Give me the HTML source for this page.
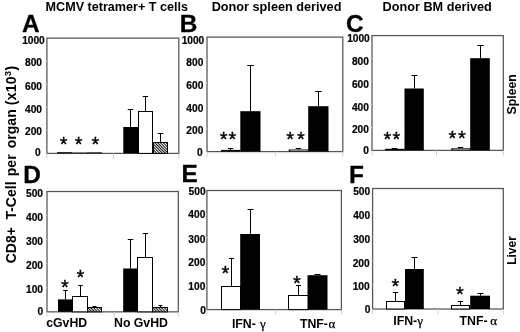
<!DOCTYPE html>
<html><head><meta charset="utf-8"><title>figure</title>
<style>
html,body{margin:0;padding:0;background:#fff;}
svg{display:block;will-change:transform;}
text{font-family:"Liberation Sans",sans-serif;font-weight:bold;fill:#000;}
</style></head><body>
<svg width="520" height="332" viewBox="0 0 520 332">
<defs>
<pattern id="hatch" width="2" height="2" patternUnits="userSpaceOnUse" patternTransform="rotate(-45)">
<rect width="2" height="2" fill="#fff"/><rect width="0.95" height="2" fill="#000"/>
</pattern>
</defs>
<rect width="520" height="332" fill="#fff"/>
<text x="45.6" y="10.7" font-size="12.6" text-anchor="start" >MCMV tetramer+ T cells</text>
<text x="211.7" y="10.5" font-size="12.7" text-anchor="start" >Donor spleen derived</text>
<text x="382.5" y="10.7" font-size="12.7" text-anchor="start" >Donor BM derived</text>
<text x="22.0" y="32" font-size="24.4" text-anchor="start" stroke="#000" stroke-width="0.3">A</text>
<text x="179.8" y="31.6" font-size="24.4" text-anchor="start" stroke="#000" stroke-width="0.3">B</text>
<text x="345.9" y="31.6" font-size="24.4" text-anchor="start" stroke="#000" stroke-width="0.3">C</text>
<text x="23.3" y="182.8" font-size="24.4" text-anchor="start" stroke="#000" stroke-width="0.3">D</text>
<text x="181.5" y="182.2" font-size="24.4" text-anchor="start" stroke="#000" stroke-width="0.3">E</text>
<text x="348.9" y="182.8" font-size="24.4" text-anchor="start" stroke="#000" stroke-width="0.3">F</text>
<text transform="translate(16.0,263.3) rotate(-90)" font-size="14">CD8+</text>
<text transform="translate(16.0,219.6) rotate(-90)" font-size="14">T-Cell</text>
<text transform="translate(16.0,176.2) rotate(-90)" font-size="14">per</text>
<text transform="translate(16.0,148.2) rotate(-90)" font-size="14">organ</text>
<text transform="translate(16.0,105.3) rotate(-90)" font-size="14" letter-spacing="0.27">(x10<tspan font-size="9.6" dy="-5">3</tspan><tspan dy="5">)</tspan></text>
<text transform="translate(515.7,114.4) rotate(-90)" font-size="12.3" textLength="40.2" lengthAdjust="spacingAndGlyphs">Spleen</text>
<text transform="translate(515.8,264.8) rotate(-90)" font-size="12.3" textLength="28.6" lengthAdjust="spacingAndGlyphs">Liver</text>
<rect x="46.9" y="38.1" width="131.9" height="115.30000000000001" fill="none" stroke="#555" stroke-width="1.25"/>
<line x1="44.9" y1="130.34" x2="46.9" y2="130.34" stroke="#d8d8d8" stroke-width="1"/>
<line x1="44.9" y1="107.28" x2="46.9" y2="107.28" stroke="#d8d8d8" stroke-width="1"/>
<line x1="44.9" y1="84.22" x2="46.9" y2="84.22" stroke="#d8d8d8" stroke-width="1"/>
<line x1="44.9" y1="61.16" x2="46.9" y2="61.16" stroke="#d8d8d8" stroke-width="1"/>
<line x1="46.9" y1="153.4" x2="46.9" y2="158.4" stroke="#cfcfcf" stroke-width="1"/>
<line x1="113.5" y1="153.4" x2="113.5" y2="158.4" stroke="#cfcfcf" stroke-width="1"/>
<line x1="178.8" y1="153.4" x2="178.8" y2="158.4" stroke="#cfcfcf" stroke-width="1"/>
<text x="44.8" y="43.57" font-size="10.2" text-anchor="end" stroke="#000" stroke-width="0.2">1000</text>
<text x="42" y="66.37" font-size="10.2" text-anchor="end" stroke="#000" stroke-width="0.2">800</text>
<text x="42" y="90.27" font-size="10.2" text-anchor="end" stroke="#000" stroke-width="0.2">600</text>
<text x="42" y="112.67" font-size="10.2" text-anchor="end" stroke="#000" stroke-width="0.2">400</text>
<text x="42" y="135.17" font-size="10.2" text-anchor="end" stroke="#000" stroke-width="0.2">200</text>
<text x="40.6" y="156.17" font-size="10.2" text-anchor="end" stroke="#000" stroke-width="0.2">0</text>
<rect x="57" y="152.20000000000002" width="15" height="1.2" fill="#000"/>
<rect x="72" y="152.6" width="15" height="0.8" fill="#000"/>
<rect x="87" y="152.4" width="15" height="1.0" fill="#000"/>
<text x="63.6" y="150.60" font-size="20" text-anchor="middle" style="font-weight:normal" stroke="#000" stroke-width="0.35">*</text>
<text x="78.7" y="150.60" font-size="20" text-anchor="middle" style="font-weight:normal" stroke="#000" stroke-width="0.35">*</text>
<text x="95.5" y="150.60" font-size="20" text-anchor="middle" style="font-weight:normal" stroke="#000" stroke-width="0.35">*</text>
<rect x="123.3" y="127" width="14.90" height="26.40" fill="#000"/>
<line x1="130.5" y1="127" x2="130.5" y2="109.5" stroke="#000" stroke-width="1"/>
<line x1="127.75" y1="109.5" x2="133.25" y2="109.5" stroke="#000" stroke-width="1"/>
<rect x="138.5" y="111.5" width="14.0" height="41.90" fill="#fff" stroke="#000" stroke-width="1"/>
<line x1="145.5" y1="111.5" x2="145.5" y2="96.5" stroke="#000" stroke-width="1"/>
<line x1="142.75" y1="96.5" x2="148.25" y2="96.5" stroke="#000" stroke-width="1"/>
<rect x="153.5" y="142.5" width="14.0" height="10.90" fill="url(#hatch)" stroke="#000" stroke-width="1"/>
<line x1="160.5" y1="142.5" x2="160.5" y2="133.5" stroke="#000" stroke-width="1"/>
<line x1="157.75" y1="133.5" x2="163.25" y2="133.5" stroke="#000" stroke-width="1"/>
<rect x="207.0" y="37.1" width="135.8" height="114.5" fill="none" stroke="#555" stroke-width="1.25"/>
<line x1="205.0" y1="128.7" x2="207.0" y2="128.7" stroke="#d8d8d8" stroke-width="1"/>
<line x1="205.0" y1="105.79999999999998" x2="207.0" y2="105.79999999999998" stroke="#d8d8d8" stroke-width="1"/>
<line x1="205.0" y1="82.89999999999999" x2="207.0" y2="82.89999999999999" stroke="#d8d8d8" stroke-width="1"/>
<line x1="205.0" y1="59.999999999999986" x2="207.0" y2="59.999999999999986" stroke="#d8d8d8" stroke-width="1"/>
<line x1="207.0" y1="151.6" x2="207.0" y2="156.6" stroke="#cfcfcf" stroke-width="1"/>
<line x1="275.3" y1="151.6" x2="275.3" y2="156.6" stroke="#cfcfcf" stroke-width="1"/>
<line x1="342.8" y1="151.6" x2="342.8" y2="156.6" stroke="#cfcfcf" stroke-width="1"/>
<text x="204.3" y="43.57" font-size="10.2" text-anchor="end" stroke="#000" stroke-width="0.2">1000</text>
<text x="203.3" y="66.47" font-size="10.2" text-anchor="end" stroke="#000" stroke-width="0.2">800</text>
<text x="203.3" y="89.37" font-size="10.2" text-anchor="end" stroke="#000" stroke-width="0.2">600</text>
<text x="203.3" y="111.77" font-size="10.2" text-anchor="end" stroke="#000" stroke-width="0.2">400</text>
<text x="203.3" y="134.17" font-size="10.2" text-anchor="end" stroke="#000" stroke-width="0.2">200</text>
<text x="202.6" y="155.77" font-size="10.2" text-anchor="end" stroke="#000" stroke-width="0.2">0</text>
<rect x="221" y="149.9" width="19.30" height="1.70" fill="#000"/>
<line x1="230.5" y1="149.9" x2="230.5" y2="148.5" stroke="#000" stroke-width="1"/>
<line x1="227.75" y1="148.5" x2="233.25" y2="148.5" stroke="#000" stroke-width="1"/>
<rect x="240.3" y="111.2" width="20.20" height="40.40" fill="#000"/>
<line x1="250.5" y1="111.2" x2="250.5" y2="65.5" stroke="#000" stroke-width="1"/>
<line x1="247.25" y1="65.5" x2="253.75" y2="65.5" stroke="#000" stroke-width="1"/>
<text x="223.6" y="145.80" font-size="20" text-anchor="middle" style="font-weight:normal" stroke="#000" stroke-width="0.35">*</text>
<text x="232.4" y="145.80" font-size="20" text-anchor="middle" style="font-weight:normal" stroke="#000" stroke-width="0.35">*</text>
<rect x="288.7" y="149.5" width="19.50" height="2.10" fill="#000"/>
<line x1="298.5" y1="149.5" x2="298.5" y2="148.5" stroke="#000" stroke-width="1"/>
<line x1="295.75" y1="148.5" x2="301.25" y2="148.5" stroke="#000" stroke-width="1"/>
<line x1="290" y1="150.6" x2="307.5" y2="150.6" stroke="#d0d0d0" stroke-width="0.7"/>
<rect x="308.2" y="106.2" width="20.30" height="45.40" fill="#000"/>
<line x1="318.5" y1="106.2" x2="318.5" y2="91.5" stroke="#000" stroke-width="1"/>
<line x1="315.25" y1="91.5" x2="321.75" y2="91.5" stroke="#000" stroke-width="1"/>
<text x="290.1" y="145.60" font-size="20" text-anchor="middle" style="font-weight:normal" stroke="#000" stroke-width="0.35">*</text>
<text x="301" y="145.60" font-size="20" text-anchor="middle" style="font-weight:normal" stroke="#000" stroke-width="0.35">*</text>
<rect x="372.0" y="35.6" width="131.3" height="114.80000000000001" fill="none" stroke="#555" stroke-width="1.25"/>
<line x1="370.0" y1="127.44" x2="372.0" y2="127.44" stroke="#d8d8d8" stroke-width="1"/>
<line x1="370.0" y1="104.48" x2="372.0" y2="104.48" stroke="#d8d8d8" stroke-width="1"/>
<line x1="370.0" y1="81.52" x2="372.0" y2="81.52" stroke="#d8d8d8" stroke-width="1"/>
<line x1="370.0" y1="58.56" x2="372.0" y2="58.56" stroke="#d8d8d8" stroke-width="1"/>
<line x1="372.0" y1="150.4" x2="372.0" y2="155.4" stroke="#cfcfcf" stroke-width="1"/>
<line x1="436.5" y1="150.4" x2="436.5" y2="155.4" stroke="#cfcfcf" stroke-width="1"/>
<line x1="503.3" y1="150.4" x2="503.3" y2="155.4" stroke="#cfcfcf" stroke-width="1"/>
<text x="369.8" y="41.87" font-size="10.2" text-anchor="end" stroke="#000" stroke-width="0.2">1000</text>
<text x="368.9" y="64.67" font-size="10.2" text-anchor="end" stroke="#000" stroke-width="0.2">800</text>
<text x="368.9" y="87.67" font-size="10.2" text-anchor="end" stroke="#000" stroke-width="0.2">600</text>
<text x="368.9" y="110.87" font-size="10.2" text-anchor="end" stroke="#000" stroke-width="0.2">400</text>
<text x="368.9" y="133.17" font-size="10.2" text-anchor="end" stroke="#000" stroke-width="0.2">200</text>
<text x="368.9" y="154.17" font-size="10.2" text-anchor="end" stroke="#000" stroke-width="0.2">0</text>
<rect x="385" y="148.8" width="19.50" height="1.60" fill="#000"/>
<line x1="394.5" y1="148.8" x2="394.5" y2="148.5" stroke="#000" stroke-width="1"/>
<line x1="391.75" y1="148.5" x2="397.25" y2="148.5" stroke="#000" stroke-width="1"/>
<rect x="404.5" y="88.5" width="19.30" height="61.90" fill="#000"/>
<line x1="414.5" y1="88.5" x2="414.5" y2="75.5" stroke="#000" stroke-width="1"/>
<line x1="411.5" y1="75.5" x2="417.5" y2="75.5" stroke="#000" stroke-width="1"/>
<text x="387.5" y="146.00" font-size="20" text-anchor="middle" style="font-weight:normal" stroke="#000" stroke-width="0.35">*</text>
<text x="396.5" y="146.00" font-size="20" text-anchor="middle" style="font-weight:normal" stroke="#000" stroke-width="0.35">*</text>
<rect x="451.2" y="148.3" width="19.00" height="2.10" fill="#000"/>
<line x1="460.5" y1="148.3" x2="460.5" y2="147.5" stroke="#000" stroke-width="1"/>
<line x1="457.75" y1="147.5" x2="463.25" y2="147.5" stroke="#000" stroke-width="1"/>
<line x1="452.5" y1="149.4" x2="469.5" y2="149.4" stroke="#d0d0d0" stroke-width="0.7"/>
<rect x="470.2" y="58.2" width="19.60" height="92.20" fill="#000"/>
<line x1="480.5" y1="58.2" x2="480.5" y2="45.5" stroke="#000" stroke-width="1"/>
<line x1="477.25" y1="45.5" x2="483.75" y2="45.5" stroke="#000" stroke-width="1"/>
<text x="452.5" y="145.00" font-size="20" text-anchor="middle" style="font-weight:normal" stroke="#000" stroke-width="0.35">*</text>
<text x="462" y="145.00" font-size="20" text-anchor="middle" style="font-weight:normal" stroke="#000" stroke-width="0.35">*</text>
<rect x="47.0" y="191.5" width="131.3" height="120.35000000000002" fill="none" stroke="#555" stroke-width="1.25"/>
<line x1="45.0" y1="287.78000000000003" x2="47.0" y2="287.78000000000003" stroke="#d8d8d8" stroke-width="1"/>
<line x1="45.0" y1="263.71000000000004" x2="47.0" y2="263.71000000000004" stroke="#d8d8d8" stroke-width="1"/>
<line x1="45.0" y1="239.64" x2="47.0" y2="239.64" stroke="#d8d8d8" stroke-width="1"/>
<line x1="45.0" y1="215.57" x2="47.0" y2="215.57" stroke="#d8d8d8" stroke-width="1"/>
<line x1="47.0" y1="311.85" x2="47.0" y2="316.85" stroke="#cfcfcf" stroke-width="1"/>
<line x1="114" y1="311.85" x2="114" y2="316.85" stroke="#cfcfcf" stroke-width="1"/>
<line x1="178.3" y1="311.85" x2="178.3" y2="316.85" stroke="#cfcfcf" stroke-width="1"/>
<text x="43" y="197.37" font-size="10.2" text-anchor="end" stroke="#000" stroke-width="0.2">500</text>
<text x="43" y="221.37" font-size="10.2" text-anchor="end" stroke="#000" stroke-width="0.2">400</text>
<text x="43" y="244.87" font-size="10.2" text-anchor="end" stroke="#000" stroke-width="0.2">300</text>
<text x="43" y="268.87" font-size="10.2" text-anchor="end" stroke="#000" stroke-width="0.2">200</text>
<text x="43" y="292.87" font-size="10.2" text-anchor="end" stroke="#000" stroke-width="0.2">100</text>
<text x="43.2" y="315.47" font-size="10.2" text-anchor="end" stroke="#000" stroke-width="0.2">0</text>
<rect x="58" y="299.4" width="14.50" height="12.45" fill="#000"/>
<line x1="65.5" y1="299.4" x2="65.5" y2="290.5" stroke="#000" stroke-width="1"/>
<line x1="63.2" y1="290.5" x2="67.8" y2="290.5" stroke="#000" stroke-width="1"/>
<rect x="72.5" y="296.5" width="15.0" height="15.35" fill="#fff" stroke="#000" stroke-width="1"/>
<line x1="80.5" y1="296.2" x2="80.5" y2="285.5" stroke="#000" stroke-width="1"/>
<line x1="78.2" y1="285.5" x2="82.8" y2="285.5" stroke="#000" stroke-width="1"/>
<rect x="87.5" y="307.5" width="14.0" height="4.35" fill="url(#hatch)" stroke="#000" stroke-width="1"/>
<line x1="94.5" y1="307" x2="94.5" y2="306.5" stroke="#000" stroke-width="1"/>
<line x1="92.5" y1="306.5" x2="96.5" y2="306.5" stroke="#000" stroke-width="1"/>
<text x="64.9" y="293.60" font-size="20" text-anchor="middle" style="font-weight:normal" stroke="#000" stroke-width="0.35">*</text>
<text x="80.5" y="284.00" font-size="20" text-anchor="middle" style="font-weight:normal" stroke="#000" stroke-width="0.35">*</text>
<rect x="123.2" y="268.5" width="14.50" height="43.35" fill="#000"/>
<line x1="130.5" y1="268.5" x2="130.5" y2="239.5" stroke="#000" stroke-width="1"/>
<line x1="127.75" y1="239.5" x2="133.25" y2="239.5" stroke="#000" stroke-width="1"/>
<rect x="137.5" y="257.5" width="15.0" height="54.35" fill="#fff" stroke="#000" stroke-width="1"/>
<line x1="145.5" y1="257.7" x2="145.5" y2="233.5" stroke="#000" stroke-width="1"/>
<line x1="142.75" y1="233.5" x2="148.25" y2="233.5" stroke="#000" stroke-width="1"/>
<rect x="152.5" y="307.5" width="15.0" height="4.35" fill="url(#hatch)" stroke="#000" stroke-width="1"/>
<line x1="160.5" y1="307.8" x2="160.5" y2="305.5" stroke="#000" stroke-width="1"/>
<line x1="158.5" y1="305.5" x2="162.5" y2="305.5" stroke="#000" stroke-width="1"/>
<text x="46.2" y="326.7" font-size="12.3" text-anchor="start" >cGvHD</text>
<text x="114" y="326.7" font-size="12.3" text-anchor="start" >No GvHD</text>
<rect x="206.9" y="190.5" width="134.49999999999997" height="119.10000000000002" fill="none" stroke="#555" stroke-width="1.25"/>
<line x1="204.9" y1="285.78000000000003" x2="206.9" y2="285.78000000000003" stroke="#d8d8d8" stroke-width="1"/>
<line x1="204.9" y1="261.96000000000004" x2="206.9" y2="261.96000000000004" stroke="#d8d8d8" stroke-width="1"/>
<line x1="204.9" y1="238.14" x2="206.9" y2="238.14" stroke="#d8d8d8" stroke-width="1"/>
<line x1="204.9" y1="214.32" x2="206.9" y2="214.32" stroke="#d8d8d8" stroke-width="1"/>
<line x1="206.9" y1="309.6" x2="206.9" y2="314.6" stroke="#cfcfcf" stroke-width="1"/>
<line x1="275.5" y1="309.6" x2="275.5" y2="314.6" stroke="#cfcfcf" stroke-width="1"/>
<line x1="341.4" y1="309.6" x2="341.4" y2="314.6" stroke="#cfcfcf" stroke-width="1"/>
<text x="205.6" y="194.97" font-size="10.2" text-anchor="end" stroke="#000" stroke-width="0.2">500</text>
<text x="205.3" y="218.47" font-size="10.2" text-anchor="end" stroke="#000" stroke-width="0.2">400</text>
<text x="205.3" y="242.87" font-size="10.2" text-anchor="end" stroke="#000" stroke-width="0.2">300</text>
<text x="205.3" y="266.27" font-size="10.2" text-anchor="end" stroke="#000" stroke-width="0.2">200</text>
<text x="205.3" y="290.27" font-size="10.2" text-anchor="end" stroke="#000" stroke-width="0.2">100</text>
<text x="205.8" y="313.57" font-size="10.2" text-anchor="end" stroke="#000" stroke-width="0.2">0</text>
<rect x="221.5" y="286.5" width="19.0" height="23.10" fill="#fff" stroke="#000" stroke-width="1"/>
<line x1="231.5" y1="286" x2="231.5" y2="258.5" stroke="#000" stroke-width="1"/>
<line x1="229.0" y1="258.5" x2="234.0" y2="258.5" stroke="#000" stroke-width="1"/>
<rect x="240.2" y="234" width="19.80" height="75.60" fill="#000"/>
<line x1="250.5" y1="234" x2="250.5" y2="209.5" stroke="#000" stroke-width="1"/>
<line x1="247.5" y1="209.5" x2="253.5" y2="209.5" stroke="#000" stroke-width="1"/>
<text x="225.5" y="279.80" font-size="20" text-anchor="middle" style="font-weight:normal" stroke="#000" stroke-width="0.35">*</text>
<rect x="288.5" y="295.5" width="20.0" height="14.10" fill="#fff" stroke="#000" stroke-width="1"/>
<line x1="298.5" y1="295" x2="298.5" y2="285.5" stroke="#000" stroke-width="1"/>
<line x1="296.0" y1="285.5" x2="301.0" y2="285.5" stroke="#000" stroke-width="1"/>
<rect x="307.5" y="275.2" width="20.00" height="34.40" fill="#000"/>
<line x1="317.5" y1="275.2" x2="317.5" y2="274.5" stroke="#000" stroke-width="1"/>
<line x1="314.5" y1="274.5" x2="320.5" y2="274.5" stroke="#000" stroke-width="1"/>
<text x="297" y="289.50" font-size="20" text-anchor="middle" style="font-weight:normal" stroke="#000" stroke-width="0.35">*</text>
<text x="231.9" y="327.6" font-size="12.3" text-anchor="start" >IFN-</text>
<text x="260.0" y="327.6" font-size="13" style="font-family:'Liberation Serif',serif;font-weight:normal" stroke="#000" stroke-width="0.25">&#947;</text>
<text x="299.9" y="327.6" font-size="12.3" text-anchor="start" >TNF-</text>
<text x="328.4" y="327.6" font-size="13" style="font-family:'Liberation Serif',serif;font-weight:normal" stroke="#000" stroke-width="0.25">&#945;</text>
<rect x="372.6" y="188.5" width="130.7" height="120.5" fill="none" stroke="#555" stroke-width="1.25"/>
<line x1="370.6" y1="284.9" x2="372.6" y2="284.9" stroke="#d8d8d8" stroke-width="1"/>
<line x1="370.6" y1="260.8" x2="372.6" y2="260.8" stroke="#d8d8d8" stroke-width="1"/>
<line x1="370.6" y1="236.7" x2="372.6" y2="236.7" stroke="#d8d8d8" stroke-width="1"/>
<line x1="370.6" y1="212.60000000000002" x2="372.6" y2="212.60000000000002" stroke="#d8d8d8" stroke-width="1"/>
<line x1="372.6" y1="309.0" x2="372.6" y2="314.0" stroke="#cfcfcf" stroke-width="1"/>
<line x1="438" y1="309.0" x2="438" y2="314.0" stroke="#cfcfcf" stroke-width="1"/>
<line x1="503.3" y1="309.0" x2="503.3" y2="314.0" stroke="#cfcfcf" stroke-width="1"/>
<text x="370.2" y="195.27" font-size="10.2" text-anchor="end" stroke="#000" stroke-width="0.2">500</text>
<text x="370.2" y="218.82" font-size="10.2" text-anchor="end" stroke="#000" stroke-width="0.2">400</text>
<text x="370.2" y="242.82" font-size="10.2" text-anchor="end" stroke="#000" stroke-width="0.2">300</text>
<text x="369.7" y="266.77" font-size="10.2" text-anchor="end" stroke="#000" stroke-width="0.2">200</text>
<text x="369.7" y="290.27" font-size="10.2" text-anchor="end" stroke="#000" stroke-width="0.2">100</text>
<text x="370.5" y="312.77" font-size="10.2" text-anchor="end" stroke="#000" stroke-width="0.2">0</text>
<rect x="386.5" y="301.5" width="18.0" height="7.50" fill="#fff" stroke="#000" stroke-width="1"/>
<line x1="395.5" y1="301" x2="395.5" y2="292.5" stroke="#000" stroke-width="1"/>
<line x1="392.75" y1="292.5" x2="398.25" y2="292.5" stroke="#000" stroke-width="1"/>
<rect x="405" y="269" width="18.80" height="40.00" fill="#000"/>
<line x1="414.5" y1="269" x2="414.5" y2="257.5" stroke="#000" stroke-width="1"/>
<line x1="411.5" y1="257.5" x2="417.5" y2="257.5" stroke="#000" stroke-width="1"/>
<text x="395.5" y="292.70" font-size="20" text-anchor="middle" style="font-weight:normal" stroke="#000" stroke-width="0.35">*</text>
<rect x="451.5" y="305.5" width="18.0" height="3.50" fill="#fff" stroke="#000" stroke-width="1"/>
<line x1="460.5" y1="305.1" x2="460.5" y2="301.5" stroke="#000" stroke-width="1"/>
<line x1="457.75" y1="301.5" x2="463.25" y2="301.5" stroke="#000" stroke-width="1"/>
<rect x="470.2" y="295.7" width="19.80" height="13.30" fill="#000"/>
<line x1="480.5" y1="295.7" x2="480.5" y2="293.5" stroke="#000" stroke-width="1"/>
<line x1="477.5" y1="293.5" x2="483.5" y2="293.5" stroke="#000" stroke-width="1"/>
<text x="460" y="301.00" font-size="20" text-anchor="middle" style="font-weight:normal" stroke="#000" stroke-width="0.35">*</text>
<text x="393.3" y="325.1" font-size="12.3" text-anchor="start" >IFN-</text>
<text x="417.2" y="325.1" font-size="13" style="font-family:'Liberation Serif',serif;font-weight:normal" stroke="#000" stroke-width="0.25">&#947;</text>
<text x="459.5" y="325.1" font-size="12.3" text-anchor="start" >TNF-</text>
<text x="490.2" y="325.1" font-size="13" style="font-family:'Liberation Serif',serif;font-weight:normal" stroke="#000" stroke-width="0.25">&#945;</text>
</svg></body></html>
